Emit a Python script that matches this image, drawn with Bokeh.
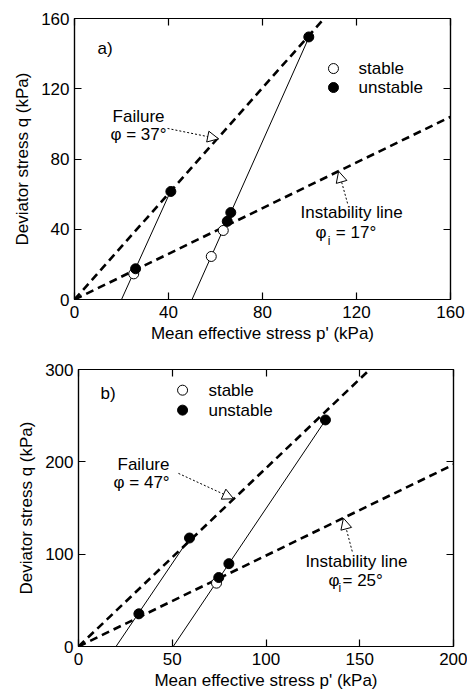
from bokeh.plotting import figure
from bokeh.models import Range1d, LinearAxis, FixedTicker, Arrow, NormalHead
from bokeh.layouts import column
from bokeh.core.properties import value
from bokeh.embed import file_html
from bokeh.resources import INLINE

FONT = "Liberation Sans"

# ---------------- panel a) data ----------------
a_ticks = [0, 40, 80, 120, 160]
a_fail_p = [0, 110]
a_fail_q = [0, 165.7]
a_inst_p = [0, 160]
a_inst_q = [0, 104]
a_path1_p = [20, 41]
a_path1_q = [0, 62]
a_path2_p = [50, 100]
a_path2_q = [0, 150]
a_stable_p = [25.2, 58.2, 63.3]
a_stable_q = [14.6, 24.5, 39.3]
a_unstable_p = [26, 41, 65, 66.5, 99.7]
a_unstable_q = [17.5, 61.5, 44.5, 49.5, 149.5]

# ---------------- panel b) data ----------------
b_xticks = [0, 50, 100, 150, 200]
b_yticks = [0, 100, 200, 300]
b_fail_p = [0, 160]
b_fail_q = [0, 309]
b_inst_p = [0, 200]
b_inst_q = [0, 197]
b_path1_p = [20, 59]
b_path1_q = [0, 117]
b_path2_p = [50.5, 132]
b_path2_q = [0, 246]
b_stable_p = [73.6]
b_stable_q = [68.6]
b_unstable_p = [32.2, 59.2, 74.8, 80.2, 131.7]
b_unstable_q = [35.4, 117.5, 74.7, 89.7, 245.4]


def mirror_axis(ticks):
    return LinearAxis(ticker=FixedTicker(ticks=ticks),
                      major_label_overrides={t: "" for t in ticks},
                      major_tick_in=7, major_tick_out=0, minor_tick_line_color=None,
                      major_label_standoff=0, major_tick_line_width=1.2, axis_line_width=1.2)


def make_fig(xmax, ymax, xticks, yticks, border):
    left, right, top, bottom = border
    p = figure(width=467, height=346, x_range=Range1d(0, xmax), y_range=Range1d(0, ymax),
               output_backend="svg", toolbar_location=None,
               min_border_left=left, min_border_right=right,
               min_border_top=top, min_border_bottom=bottom)
    p.xgrid.visible = False
    p.ygrid.visible = False
    p.outline_line_color = "black"
    p.outline_line_width = 1.2
    p.background_fill_color = "white"
    p.border_fill_color = "white"
    for ax, t in ((p.xaxis[0], xticks), (p.yaxis[0], yticks)):
        ax.ticker = FixedTicker(ticks=t)
        ax.major_tick_in = 7
        ax.major_tick_out = 0
        ax.minor_tick_line_color = None
        ax.major_tick_line_width = 1.2
        ax.axis_line_width = 1.2
        ax.major_label_text_font = FONT
        ax.major_label_text_font_size = "17px"
        ax.major_label_text_color = "black"
        ax.axis_label_text_font = FONT
        ax.axis_label_text_font_size = "17px"
        ax.axis_label_text_font_style = "normal"
        ax.axis_label_text_color = "black"
    p.xaxis[0].major_label_standoff = 6
    p.yaxis[0].major_label_standoff = 5
    p.xaxis[0].axis_label_standoff = 3
    p.yaxis[0].axis_label_standoff = 6
    p.xaxis[0].axis_label = "Mean effective stress p' (kPa)"
    p.yaxis[0].axis_label = "Deviator stress q (kPa)"
    p.add_layout(mirror_axis(xticks), "above")
    p.add_layout(mirror_axis(yticks), "right")
    return p


def txt(p, x, y, s, size="17px"):
    p.text(x=[x], y=[y], text=[s], text_font=value(FONT), text_font_size=value(size),
           text_baseline="middle", text_align="left", text_color="black")


def arrow(p, xs, ys, xe, ye):
    p.add_layout(Arrow(end=NormalHead(size=11, fill_color="white", line_color="black", line_width=1),
                       x_start=xs, y_start=ys, x_end=xe, y_end=ye,
                       line_dash="2 2", line_width=1, line_color="black"))


def draw(p, fail_p, fail_q, inst_p, inst_q, path1_p, path1_q, path2_p, path2_q,
         st_p, st_q, un_p, un_q):
    p.line(fail_p, fail_q, line_color="black", line_width=2.6, line_dash="8 5")
    p.line(inst_p, inst_q, line_color="black", line_width=2.6, line_dash="8 5")
    p.line(path1_p, path1_q, line_color="black", line_width=1)
    p.line(path2_p, path2_q, line_color="black", line_width=1)
    p.scatter(st_p, st_q, size=10, fill_color="white", line_color="black", line_width=1)
    p.scatter(un_p, un_q, size=10, fill_color="black", line_color="black")


# ---------------- panel a ----------------
pa = make_fig(160, 160, a_ticks, a_ticks, (74, 17, 18, 47))
draw(pa, a_fail_p, a_fail_q, a_inst_p, a_inst_q, a_path1_p, a_path1_q, a_path2_p, a_path2_q,
     a_stable_p, a_stable_q, a_unstable_p, a_unstable_q)
txt(pa, 9.8, 143, "a)")
pa.scatter([110.2], [131.5], size=10, fill_color="white", line_color="black")
pa.scatter([110.2], [120.7], size=10, fill_color="black", line_color="black")
txt(pa, 120.9, 131.5, "stable")
txt(pa, 120.9, 120.7, "unstable")
txt(pa, 16.2, 104, "Failure")
txt(pa, 15.3, 94, "φ = 37°")
arrow(pa, 39.6, 97.4, 61.3, 91.5)
txt(pa, 96.2, 49.5, "Instability line")
txt(pa, 102.6, 38, "φ")
txt(pa, 107.8, 33.5, "i", "12px")
txt(pa, 111.2, 38, "= 17°")
arrow(pa, 116.2, 54.7, 112.4, 73)

# ---------------- panel b ----------------
pb = make_fig(200, 300, b_xticks, b_yticks, (78, 14, 23, 43))
draw(pb, b_fail_p, b_fail_q, b_inst_p, b_inst_q, b_path1_p, b_path1_q, b_path2_p, b_path2_q,
     b_stable_p, b_stable_q, b_unstable_p, b_unstable_q)
txt(pb, 11.7, 274, "b)")
pb.scatter([55.5], [277.6], size=10, fill_color="white", line_color="black")
pb.scatter([55.5], [256], size=10, fill_color="black", line_color="black")
txt(pb, 69.3, 277.6, "stable")
txt(pb, 69.3, 256, "unstable")
txt(pb, 20.8, 197, "Failure")
txt(pb, 18.7, 178, "φ = 47°")
arrow(pb, 53.3, 187.5, 82.7, 160)
txt(pb, 121, 92, "Instability line")
txt(pb, 133.3, 71, "φ")
txt(pb, 138.7, 63, "i", "12px")
txt(pb, 140.8, 71, "= 25°")
arrow(pb, 146, 102.9, 141.3, 139)

layout = column(column(pa), column(pb), spacing=0)
open("out.html", "w").write(file_html(layout, INLINE))
